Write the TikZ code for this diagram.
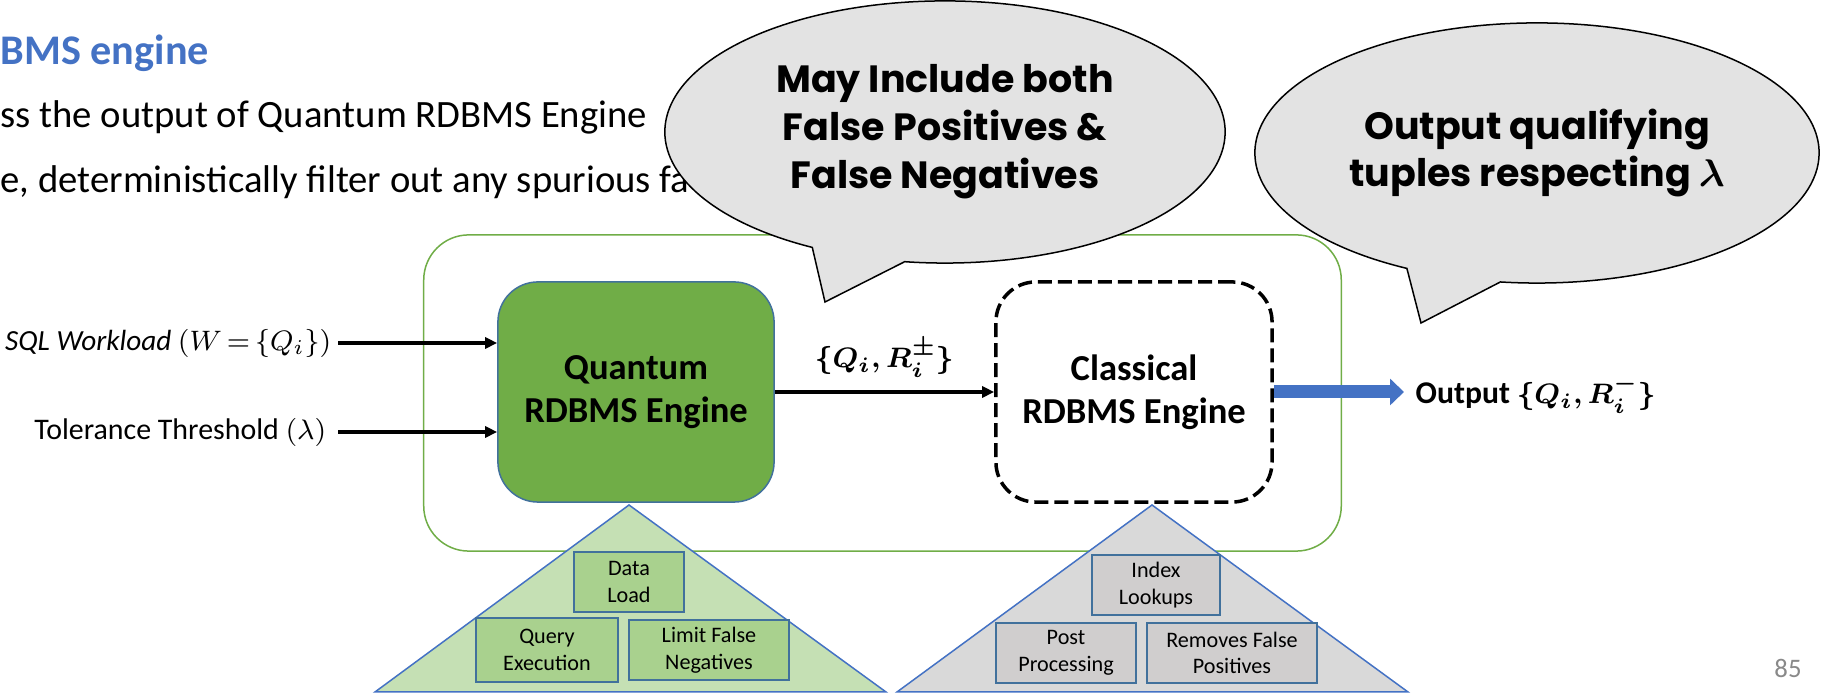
\documentclass[tikz,border=0pt]{standalone}
\usepackage{amsmath, amssymb, bm}
\usepackage{fontspec}
\setmainfont{Carlito}
\newfontfamily\bubblefont{Poppins}
\usepackage{tikz}
\usetikzlibrary{arrows.meta,positioning,shapes.callouts,calc}
\usepackage{xcolor}

\definecolor{slideblue}{HTML}{4472C4}
\definecolor{boxblue}{HTML}{41719C}
\definecolor{qgreen}{HTML}{70AD47}
\definecolor{trigreen}{HTML}{C5E0B4}
\definecolor{taskgreen}{HTML}{A9D18E}
\definecolor{trigray}{HTML}{D9D9D9}
\definecolor{taskgray}{HTML}{D0CECE}
\definecolor{bubblegray}{HTML}{E3E3E3}
\definecolor{pagegray}{HTML}{898989}

\begin{document}
\begin{tikzpicture}[x=0.01cm, y=-0.01cm,
        engine/.style={draw=boxblue, rounded corners=0.4cm, minimum width=2.76cm, minimum height=2.2cm, align=center, font=\fontsize{10.4}{12.3}\selectfont\bfseries},
        task/.style={draw=boxblue, line width=0.02cm, align=center, inner sep=0pt, font=\fontsize{6.3}{7.6}\selectfont},
        tri/.style={draw=slideblue, line width=0.015cm},
        arrow/.style={-{Triangle[length=0.12cm,width=0.11cm]}, line width=0.035cm},
        outarrow/.style={-{Triangle[length=0.14cm,width=0.26cm]}, line width=0.13cm, slideblue},
        bubble/.style={ellipse callout, draw, line width=0.015cm, fill=bubblegray, callout pointer arc=20, align=center, font=\bubblefont\bfseries\fontsize{10.8}{13.6}\selectfont},
        body/.style={anchor=base west, inner sep=0pt, font=\fontsize{11}{13}\selectfont},
        inlabel/.style={anchor=east, inner sep=0pt, font=\fontsize{8.5}{10}\selectfont}
    ]
        \useasboundingbox (0,0) rectangle (1823,695);

        % Slide text
        \node[body, font=\fontsize{12}{14}\selectfont\bfseries, text=slideblue] (head) at (0,65) {BMS engine};
        \node[body] (line1) at (0,128) {ss the output of Quantum RDBMS Engine};
        \node[body] (line2) at (0,193) {e, deterministically filter out any spurious fa};

        % Frame
        \node[draw=qgreen, line width=0.015cm, rounded corners=0.45cm, minimum width=9.17cm, minimum height=3.16cm] (frame) at (882.5,393) {};

        % Engines
        \node[engine, fill=qgreen, line width=0.015cm] (qre) at (636,392) {Quantum\\RDBMS Engine};
        \node[engine, draw=black, line width=0.035cm, dash pattern=on 0.14cm off 0.06cm] (cre) at (1134,392) {Classical\\RDBMS Engine};

        % Inputs
        \node[inlabel, font=\fontsize{8.3}{10}\selectfont] (wl) at (332,343) {\textit{SQL Workload} $(W\,{=}\,\{Q_i\})$};
        \node[inlabel] (tt) at (327,432) {Tolerance Threshold $(\lambda)$};
        \draw[arrow] ($(wl.east)+(6,0)$) -- (wl.east -| qre.west);
        \draw[arrow] ($(tt.east)+(11,0)$) -- (tt.east -| qre.west);

        % Between engines
        \draw[arrow] (qre) -- (cre) node[midway, above=0.01cm, font=\fontsize{8}{10}\selectfont] (qr) {$\boldsymbol{\{Q_i,R_i^{\pm}\}}$};

        % Output
        \node[anchor=west, inner sep=0pt, font=\fontsize{9}{11}\selectfont\bfseries] (out) at (1415,394) {Output \fontsize{8}{10}\selectfont$\boldsymbol{\{Q_i,R_i^{-}\}}$};
        \draw[outarrow] (cre.east) -- ($(cre.east -| out.west)+(-11,0)$);

        % Quantum tasks
        \draw[tri, fill=trigreen] (629,505) -- (886,692) -- (375,692) -- cycle;
        \node[task, fill=taskgreen, minimum width=1.1cm, minimum height=0.6cm] (dl) at (629,582) {Data\\Load};
        \node[task, fill=taskgreen, minimum width=1.41cm, minimum height=0.63cm] (qe) at (547,650) {Query\\Execution};
        \node[task, fill=taskgreen, minimum width=1.6cm, minimum height=0.59cm] (lfn) at (709,650) {Limit False\\Negatives};

        % Classical tasks
        \draw[tri, fill=trigray] (1152,505) -- (1408,692) -- (897,692) -- cycle;
        \node[task, fill=taskgray, minimum width=1.27cm, minimum height=0.59cm] (il) at (1156,585) {Index\\Lookups};
        \node[task, fill=taskgray, minimum width=1.4cm, minimum height=0.59cm] (pp) at (1066,653) {Post\\Processing};
        \node[task, fill=taskgray, minimum width=1.7cm, minimum height=0.59cm] (rfp) at (1232,653) {Removes False\\Positives};

        % Callouts
        \node[bubble, minimum width=5.6cm, minimum height=2.62cm, callout absolute pointer={(825,302)}] (b1) at (945,132) {May Include both\\False Positives \&\\False Negatives};
        \node[bubble, minimum width=5.6cm, minimum height=2.6cm, callout absolute pointer={(1421,323)}] (b2) at (1537,153) {Output qualifying\\tuples respecting $\boldsymbol{\lambda}$};

        % Page number
        \node[text=pagegray, font=\fontsize{7.6}{9}\selectfont] (pg) at (1788,668) {85};
    \end{tikzpicture}
\end{document}
